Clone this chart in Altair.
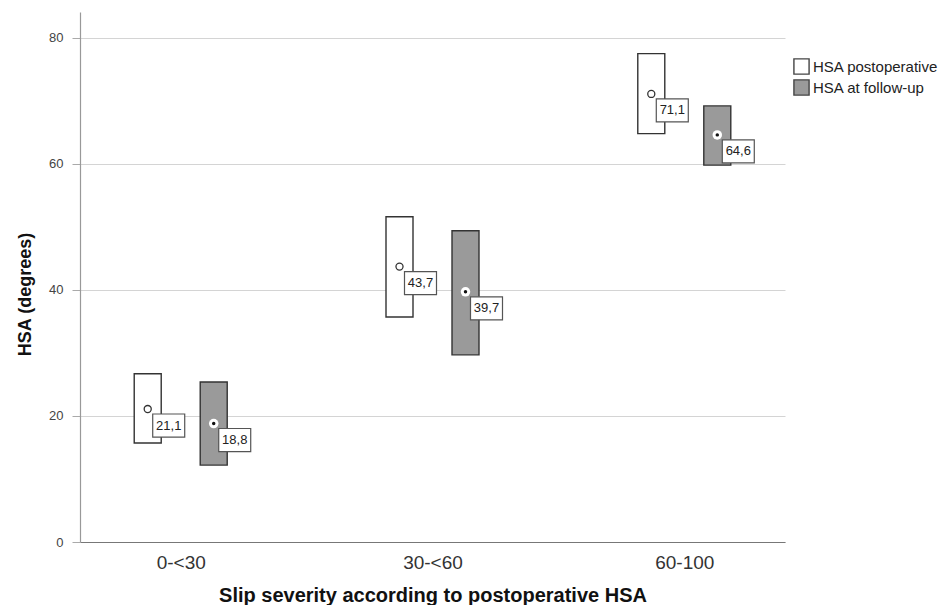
import altair as alt
import pandas as pd

categories = ["0-<30", "30-<60", "60-100"]
series = ["HSA postoperative", "HSA at follow-up"]

post_mean = [21.1, 43.7, 71.1]
post_low = [15.7, 35.7, 64.8]
post_high = [26.7, 51.6, 77.5]

fu_mean = [18.8, 39.7, 64.6]
fu_low = [12.2, 29.7, 59.8]
fu_high = [25.4, 49.4, 69.2]

y_ticks = [0, 20, 40, 60, 80]

rows = []
for s, means, lows, highs in [
    (series[0], post_mean, post_low, post_high),
    (series[1], fu_mean, fu_low, fu_high),
]:
    for c, m, lo, hi in zip(categories, means, lows, highs):
        rows.append({"cat": c, "series": s, "mean": m, "low": lo, "high": hi,
                     "label": f"{m:.1f}".replace(".", ",")})
df = pd.DataFrame(rows)

FONT = "Liberation Sans"
offsets = {series[0]: -33, series[1]: 33}

x_enc = alt.X(
    "cat:N", sort=categories,
    scale=alt.Scale(type="point", padding=0.4),
    axis=alt.Axis(
        title="Slip severity according to postoperative HSA",
        labelAngle=0, ticks=False, labelPadding=11,
        labelFontSize=19, labelColor="#333", labelFont=FONT,
        titleFontSize=20, titleFontWeight="bold", titleFont=FONT, titleColor="#111",
        titleY=59, titleBaseline="alphabetic", titleAnchor="middle",
        domainColor="#777", domainWidth=1.2, grid=False,
    ),
)
y_scale = alt.Scale(domain=[0, 84.1], nice=False, zero=True)
y_axis = alt.Axis(
    title="HSA (degrees)", values=y_ticks, format="d",
    grid=True, gridColor="#d4d4d4", gridWidth=1,
    tickSize=8, tickColor="#aaa", labelPadding=9,
    labelFontSize=13, labelColor="#444", labelFont=FONT,
    domainColor="#999", domainWidth=1.2,
    titleFontSize=18, titleFontWeight="bold", titleFont=FONT, titleColor="#111",
    titleAngle=270, titleX=-55, titleY=282, titleAlign="center", titleBaseline="middle",
)

base = alt.Chart(df)
layers = []
for s in series:
    off = offsets[s]
    sub = base.transform_filter(alt.datum.series == s)
    bar = sub.mark_bar(width=27, xOffset=off, stroke="#333", strokeWidth=1.4).encode(
        x=x_enc,
        y=alt.Y("low:Q", scale=y_scale, axis=y_axis),
        y2="high:Q",
        fill=alt.Fill(
            "series:N",
            scale=alt.Scale(domain=series, range=["#ffffff", "#9a9a9a"]),
            legend=alt.Legend(
                title=None, orient="none", legendX=713, legendY=46,
                symbolType="square", symbolSize=230, symbolStrokeColor="#444",
                symbolStrokeWidth=1.4, labelFontSize=15, labelFont=FONT,
                labelColor="#222", rowPadding=0, labelOffset=3,
            ),
        ),
    )
    layers.append(bar)
    if s == series[0]:
        pt = sub.mark_point(xOffset=off, shape="circle", size=50, filled=True,
                            fill="white", stroke="#333", strokeWidth=1.3, opacity=1).encode(
            x=x_enc, y=alt.Y("mean:Q", scale=y_scale))
        layers.append(pt)
    else:
        halo = sub.mark_point(xOffset=off, shape="circle", size=90, filled=True,
                              fill="white", strokeWidth=0, opacity=1).encode(
            x=x_enc, y=alt.Y("mean:Q", scale=y_scale))
        dot = sub.mark_point(xOffset=off, shape="circle", size=12, filled=True,
                             fill="#111", strokeWidth=0, opacity=1).encode(
            x=x_enc, y=alt.Y("mean:Q", scale=y_scale))
        layers += [halo, dot]
    box = sub.mark_point(
        xOffset=off + 21, yOffset=16.5,
        shape="M-1,-0.72L1,-0.72L1,0.72L-1,0.72Z", size=1024,
        filled=True, fill="white", stroke="#555", strokeWidth=1.2, opacity=1,
    ).encode(x=x_enc, y=alt.Y("mean:Q", scale=y_scale))
    txt = sub.mark_text(
        dx=off + 21, dy=16.5, fontSize=13, font=FONT, color="#222",
        align="center", baseline="middle",
    ).encode(x=x_enc, y=alt.Y("mean:Q", scale=y_scale), text="label:N")
    layers += [box, txt]

chart = alt.layer(*layers).properties(
    width=705, height=530,
    autosize=alt.AutoSizeParams(type="none"),
    padding={"left": 72, "top": 4, "right": 153, "bottom": 63},
    background="white",
).configure_view(stroke=None)

chart.save("out.html", embed_options={"renderer": "svg", "actions": False})
